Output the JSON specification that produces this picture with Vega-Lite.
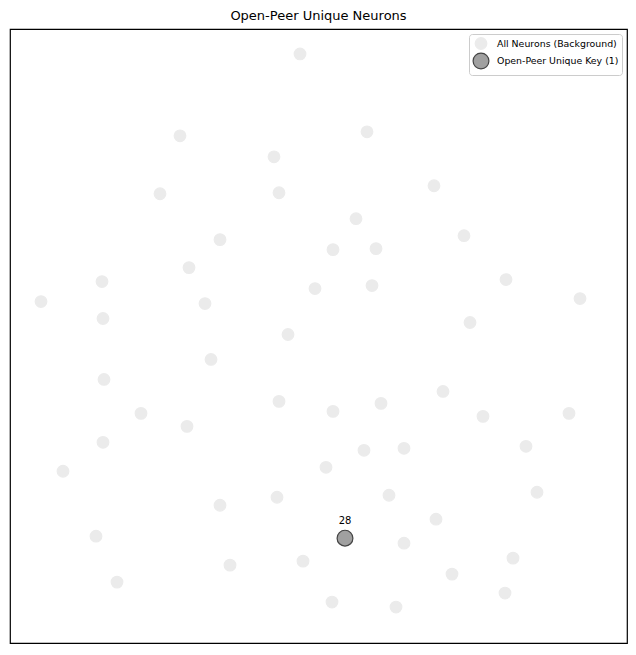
{
  "$schema": "https://vega.github.io/schema/vega-lite/v6.json",
  "autosize": "none",
  "width": 617,
  "height": 614,
  "padding": {"left": 10, "top": 29, "right": 9, "bottom": 12},
  "background": "white",
  "config": {"view": {"stroke": "black", "strokeWidth": 1.2}},
  "title": {"text": "Open-Peer Unique Neurons", "font": "DejaVu Sans", "fontSize": 13, "fontWeight": "normal", "color": "black", "offset": 6},
  "data": {"values": [
    {"x": 300, "y": 602, "group": "All Neurons (Background)", "label": ""},
    {"x": 180, "y": 520, "group": "All Neurons (Background)", "label": ""},
    {"x": 367, "y": 524, "group": "All Neurons (Background)", "label": ""},
    {"x": 274, "y": 499, "group": "All Neurons (Background)", "label": ""},
    {"x": 160, "y": 462, "group": "All Neurons (Background)", "label": ""},
    {"x": 279, "y": 463, "group": "All Neurons (Background)", "label": ""},
    {"x": 434, "y": 470, "group": "All Neurons (Background)", "label": ""},
    {"x": 356, "y": 437, "group": "All Neurons (Background)", "label": ""},
    {"x": 220, "y": 416, "group": "All Neurons (Background)", "label": ""},
    {"x": 464, "y": 420, "group": "All Neurons (Background)", "label": ""},
    {"x": 333, "y": 406, "group": "All Neurons (Background)", "label": ""},
    {"x": 376, "y": 407, "group": "All Neurons (Background)", "label": ""},
    {"x": 189, "y": 388, "group": "All Neurons (Background)", "label": ""},
    {"x": 102, "y": 374, "group": "All Neurons (Background)", "label": ""},
    {"x": 506, "y": 376, "group": "All Neurons (Background)", "label": ""},
    {"x": 315, "y": 367, "group": "All Neurons (Background)", "label": ""},
    {"x": 372, "y": 370, "group": "All Neurons (Background)", "label": ""},
    {"x": 41, "y": 354, "group": "All Neurons (Background)", "label": ""},
    {"x": 205, "y": 352, "group": "All Neurons (Background)", "label": ""},
    {"x": 580, "y": 357, "group": "All Neurons (Background)", "label": ""},
    {"x": 103, "y": 337, "group": "All Neurons (Background)", "label": ""},
    {"x": 470, "y": 333, "group": "All Neurons (Background)", "label": ""},
    {"x": 288, "y": 321, "group": "All Neurons (Background)", "label": ""},
    {"x": 211, "y": 296, "group": "All Neurons (Background)", "label": ""},
    {"x": 104, "y": 276, "group": "All Neurons (Background)", "label": ""},
    {"x": 443, "y": 264, "group": "All Neurons (Background)", "label": ""},
    {"x": 279, "y": 254, "group": "All Neurons (Background)", "label": ""},
    {"x": 381, "y": 252, "group": "All Neurons (Background)", "label": ""},
    {"x": 141, "y": 242, "group": "All Neurons (Background)", "label": ""},
    {"x": 333, "y": 244, "group": "All Neurons (Background)", "label": ""},
    {"x": 569, "y": 242, "group": "All Neurons (Background)", "label": ""},
    {"x": 483, "y": 239, "group": "All Neurons (Background)", "label": ""},
    {"x": 187, "y": 229, "group": "All Neurons (Background)", "label": ""},
    {"x": 103, "y": 213, "group": "All Neurons (Background)", "label": ""},
    {"x": 364, "y": 205, "group": "All Neurons (Background)", "label": ""},
    {"x": 404, "y": 207, "group": "All Neurons (Background)", "label": ""},
    {"x": 526, "y": 209, "group": "All Neurons (Background)", "label": ""},
    {"x": 326, "y": 188, "group": "All Neurons (Background)", "label": ""},
    {"x": 63, "y": 184, "group": "All Neurons (Background)", "label": ""},
    {"x": 537, "y": 163, "group": "All Neurons (Background)", "label": ""},
    {"x": 389, "y": 160, "group": "All Neurons (Background)", "label": ""},
    {"x": 277, "y": 158, "group": "All Neurons (Background)", "label": ""},
    {"x": 220, "y": 150, "group": "All Neurons (Background)", "label": ""},
    {"x": 436, "y": 136, "group": "All Neurons (Background)", "label": ""},
    {"x": 96, "y": 119, "group": "All Neurons (Background)", "label": ""},
    {"x": 404, "y": 112, "group": "All Neurons (Background)", "label": ""},
    {"x": 345, "y": 117, "group": "All Neurons (Background)", "label": ""},
    {"x": 230, "y": 90, "group": "All Neurons (Background)", "label": ""},
    {"x": 303, "y": 94, "group": "All Neurons (Background)", "label": ""},
    {"x": 513, "y": 97, "group": "All Neurons (Background)", "label": ""},
    {"x": 452, "y": 81, "group": "All Neurons (Background)", "label": ""},
    {"x": 117, "y": 73, "group": "All Neurons (Background)", "label": ""},
    {"x": 505, "y": 62, "group": "All Neurons (Background)", "label": ""},
    {"x": 332, "y": 53, "group": "All Neurons (Background)", "label": ""},
    {"x": 396, "y": 48, "group": "All Neurons (Background)", "label": ""},
    {"x": 345, "y": 117, "group": "Open-Peer Unique Key (1)", "label": "28"}
  ]},
  "layer": [
    {
      "mark": {"type": "point", "filled": true, "shape": "circle", "strokeWidth": 1.2},
      "encoding": {
        "x": {"field": "x", "type": "quantitative", "scale": {"domain": [10, 627], "nice": false, "zero": false}, "axis": null},
        "y": {"field": "y", "type": "quantitative", "scale": {"domain": [12, 627], "nice": false, "zero": false}, "axis": null},
        "color": {"field": "group", "type": "nominal", "title": null,
          "scale": {"domain": ["All Neurons (Background)", "Open-Peer Unique Key (1)"], "range": ["#ebebeb", "#a0a0a0"]},
          "legend": {"orient": "top-right", "offset": 5, "labelFont": "DejaVu Sans", "labelFontSize": 9.4, "labelColor": "black", "labelOffset": 7,
            "fillColor": "white", "strokeColor": "#cccccc", "cornerRadius": 3, "padding": 3, "rowPadding": -5, "symbolStrokeWidth": 1.2}},
        "size": {"field": "group", "type": "nominal", "scale": {"domain": ["All Neurons (Background)", "Open-Peer Unique Key (1)"], "range": [135, 250]}},
        "stroke": {"field": "group", "type": "nominal", "scale": {"domain": ["All Neurons (Background)", "Open-Peer Unique Key (1)"], "range": ["#ebebeb", "#444444"]}},
        "opacity": {"value": 1}
      }
    },
    {
      "transform": [{"filter": "datum.label != ''"}],
      "mark": {"type": "text", "dy": -17, "font": "DejaVu Sans", "fontSize": 10, "color": "black"},
      "encoding": {
        "x": {"field": "x", "type": "quantitative"},
        "y": {"field": "y", "type": "quantitative"},
        "text": {"field": "label"}
      }
    }
  ]
}
